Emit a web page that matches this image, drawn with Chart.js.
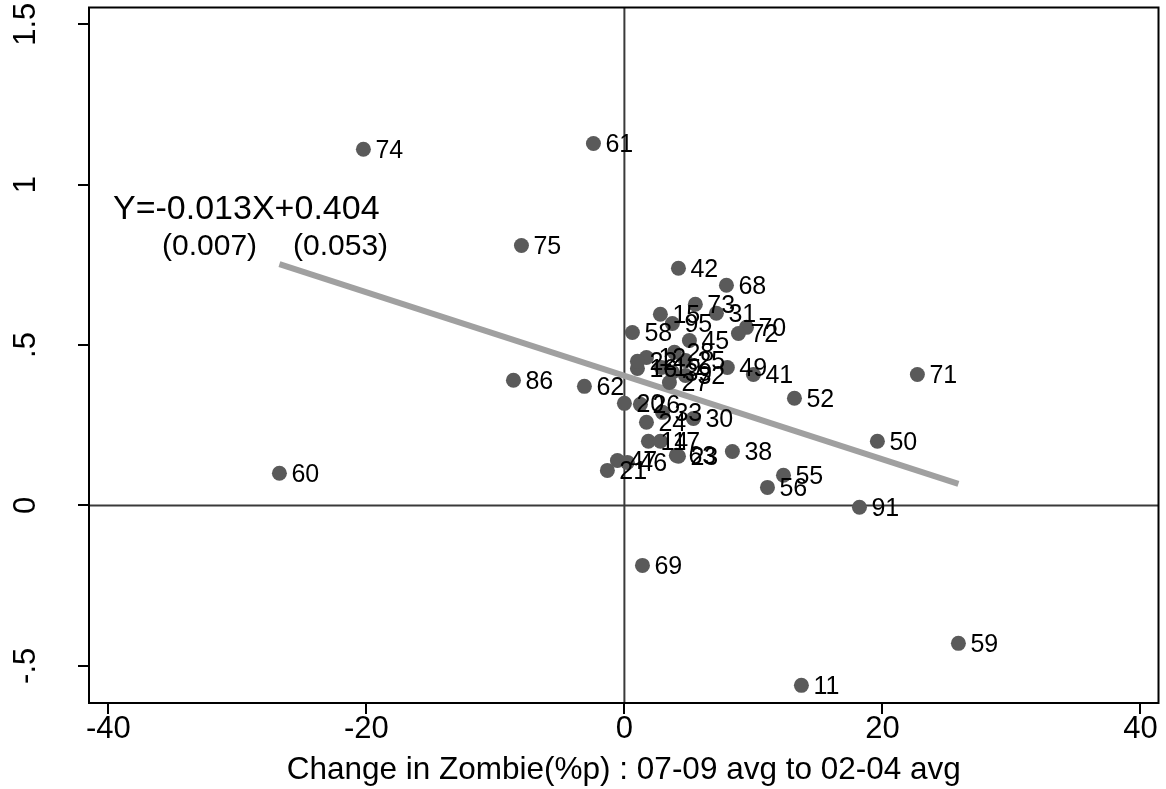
<!DOCTYPE html>
<html>
<head>
<meta charset="utf-8">
<script src="https://cdn.jsdelivr.net/npm/chart.js@4.4.1/dist/chart.umd.min.js"></script>
<style>
html,body{margin:0;padding:0;background:#fff;}
canvas{display:block;}
</style>
</head>
<body>
<canvas id="c" width="1166" height="789"></canvas>
<script>
// ---- data ----
const ids   = ["74","61","75","42","68","73","31","15","95","58","70","72","45","28","25","12","16","22","19","39","32","27","49","41","52","71","62","86","60","20","26","33","30","24","14","17","63","23","38","47","46","21","55","56","50","91","69","59","11"];
const xVals = [-20.23,-2.40,-7.98,4.19,7.91,5.50,7.13,2.79,3.72,0.62,9.46,8.84,5.04,3.88,4.73,1.71,1.01,1.01,2.87,3.72,4.73,3.49,7.98,10.0,13.18,22.71,-3.10,-8.60,-26.74,0.0,1.24,2.95,5.35,1.71,1.86,2.79,4.03,4.19,8.37,-0.54,0.23,-1.32,12.33,11.09,19.61,18.22,1.40,25.89,13.72];
const yVals = [1.110,1.128,0.810,0.739,0.686,0.627,0.599,0.596,0.567,0.539,0.555,0.536,0.514,0.477,0.452,0.461,0.427,0.449,0.430,0.415,0.405,0.383,0.430,0.408,0.334,0.408,0.371,0.390,0.100,0.318,0.315,0.290,0.271,0.259,0.200,0.200,0.156,0.153,0.168,0.140,0.134,0.109,0.094,0.056,0.200,-0.006,-0.187,-0.430,-0.561];
const fitX = [-26.74, 25.89];
const fitY = [0.752, 0.067];
const xTicks = [-40, -20, 0, 20, 40];
const yTicks = [-0.5, 0, 0.5, 1, 1.5];
const yTickLabels = ["-.5", "0", ".5", "1", "1.5"];
const xTitle = "Change in Zombie(%p) : 07-09 avg to 02-04 avg";
const eqText = "Y=-0.013X+0.404";
const seSlope = "(0.007)";
const seConst = "(0.053)";

const FONT = '"Liberation Sans", Arial, sans-serif';

const pts = xVals.map((x, i) => ({x: x, y: yVals[i]}));
const fitPts = fitX.map((x, i) => ({x: x, y: fitY[i]}));

const decor = {
  id: 'decor',
  beforeDatasetsDraw(chart) {
    const {ctx, chartArea: a, scales: {x, y}} = chart;
    ctx.save();
    ctx.strokeStyle = '#3a3a3a';
    ctx.lineWidth = 2;
    const x0 = x.getPixelForValue(0), y0 = y.getPixelForValue(0);
    ctx.beginPath();
    ctx.moveTo(x0, a.top); ctx.lineTo(x0, a.bottom);
    ctx.moveTo(a.left, y0); ctx.lineTo(a.right, y0);
    ctx.stroke();
    ctx.restore();
  },
  afterDatasetsDraw(chart) {
    const {ctx, chartArea: a, scales: {x, y}} = chart;
    ctx.save();
    ctx.fillStyle = '#000';
    ctx.font = '25px ' + FONT;
    ctx.textBaseline = 'middle';
    ctx.textAlign = 'left';
    ids.forEach((id, i) => {
      ctx.fillText(id, x.getPixelForValue(xVals[i]) + 12, y.getPixelForValue(yVals[i]) + 2);
    });
    ctx.textBaseline = 'alphabetic';
    ctx.font = '34px ' + FONT;
    ctx.fillText(eqText, 113, 219);
    ctx.font = '30px ' + FONT;
    ctx.fillText(seSlope, 162, 255);
    ctx.fillText(seConst, 293, 255);
    ctx.strokeStyle = '#000';
    ctx.lineWidth = 2;
    ctx.strokeRect(a.left, a.top, a.right - a.left, a.bottom - a.top);
    ctx.restore();
  }
};

new Chart(document.getElementById('c'), {
  type: 'scatter',
  data: {
    datasets: [
      {
        type: 'line',
        data: fitPts,
        borderColor: '#a0a0a0',
        borderWidth: 6,
        pointRadius: 0,
        fill: false,
        order: 2
      },
      {
        data: pts,
        backgroundColor: '#5a5a5a',
        borderColor: '#5a5a5a',
        borderWidth: 0,
        pointRadius: 7.5,
        order: 1
      }
    ]
  },
  options: {
    responsive: false,
    devicePixelRatio: 1,
    animation: false,
    events: [],
    layout: {padding: {top: 7, right: 7, left: 0, bottom: 0}},
    plugins: {legend: {display: false}, tooltip: {enabled: false}},
    scales: {
      x: {
        type: 'linear',
        min: -41.5,
        max: 41.4,
        afterBuildTicks: s => { s.ticks = xTicks.map(v => ({value: v})); },
        afterFit: s => { s.height = 86; s.paddingLeft = 0; s.paddingRight = 0; },
        border: {display: false},
        grid: {drawOnChartArea: false, drawTicks: true, tickLength: 11, color: '#000', lineWidth: 2},
        ticks: {color: '#000', font: {family: FONT, size: 31}, padding: -3, maxRotation: 0, autoSkip: false,
                callback: v => String(v)},
        title: {display: true, text: xTitle, color: '#000', font: {family: FONT, size: 31.5}, padding: {top: 0, bottom: 0}}
      },
      y: {
        type: 'linear',
        min: -0.616,
        max: 1.552,
        afterBuildTicks: s => { s.ticks = yTicks.map(v => ({value: v})); },
        afterFit: s => { s.width = 89; s.paddingTop = 0; s.paddingBottom = 0; },
        border: {display: false},
        grid: {drawOnChartArea: false, drawTicks: true, tickLength: 11, color: '#000', lineWidth: 2},
        ticks: {color: '#000', font: {family: FONT, size: 31}, padding: 30, minRotation: 90, maxRotation: 90,
                crossAlign: 'center', autoSkip: false,
                callback: v => { const i = yTicks.indexOf(v); return i >= 0 ? yTickLabels[i] : ''; }}
      }
    }
  },
  plugins: [decor]
});
</script>
</body>
</html>
